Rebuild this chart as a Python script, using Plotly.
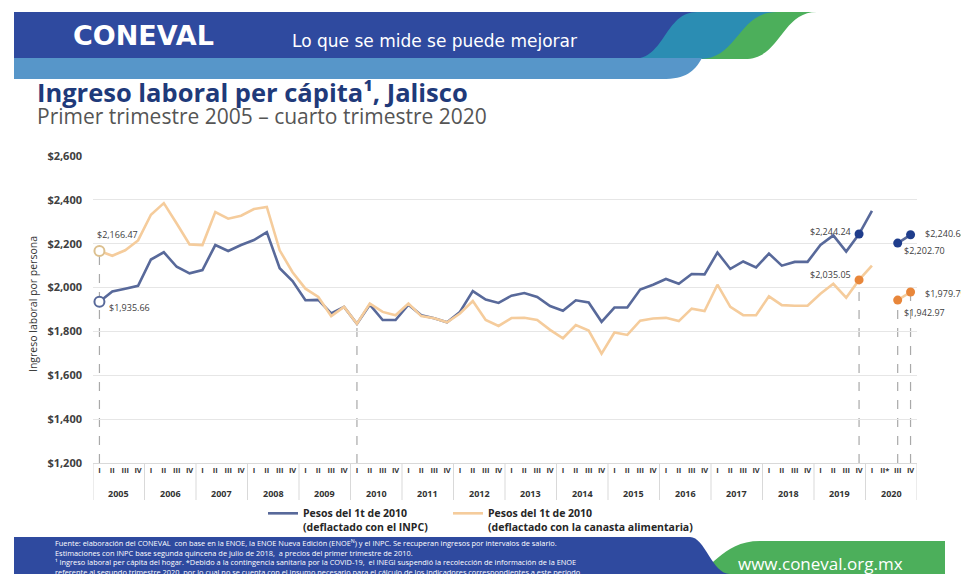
import plotly.graph_objects as go

# ---------------- data ----------------
years = [str(y) for y in range(2005, 2021)]
quarters = ["I", "II", "III", "IV"]
quarter_labels = []
for y in years:
    for q in quarters:
        quarter_labels.append("II*" if (y == "2020" and q == "II") else q)

inpc = [1935.66, 1982, 1995, 2008, 2128, 2161, 2095, 2065,
        2080, 2194, 2167, 2194, 2217, 2253, 2088, 2030,
        1942, 1944, 1882, 1912, 1835, 1922, 1852, 1852,
        1922, 1874, 1860, 1842, 1889, 1984, 1945, 1930,
        1963, 1975, 1957, 1916, 1894, 1942, 1932, 1844,
        1909, 1909, 1991, 2013, 2039, 2017, 2062, 2060,
        2160, 2085, 2119, 2092, 2155, 2100, 2117, 2117,
        2194, 2238, 2164, 2244.24, 2350, None, 2202.70, 2240.64]

canasta = [2166.47, 2145, 2170, 2215, 2332, 2385, 2292, 2197,
           2194, 2344, 2314, 2328, 2358, 2368, 2170, 2070,
           1995, 1957, 1870, 1912, 1835, 1927, 1889, 1874,
           1927, 1870, 1860, 1842, 1882, 1939, 1852, 1825,
           1861, 1862, 1852, 1807, 1769, 1829, 1804, 1699,
           1795, 1784, 1849, 1859, 1862, 1847, 1904, 1893,
           2013, 1912, 1874, 1874, 1960, 1920, 1917, 1917,
           1972, 2017, 1954, 2035.05, 2100, None, 1942.97, 1979.79]

series_names = ["Pesos del 1t de 2010<br>(deflactado con el INPC)",
                "Pesos del 1t de 2010<br>(deflactado con la canasta alimentaria)"]
yticks = [1200, 1400, 1600, 1800, 2000, 2200, 2400, 2600]
highlight_idx = [59, 62, 63]   # 2019 IV, 2020 III, 2020 IV
ref_idx = [0, 20, 59, 62, 63]  # dashed reference lines

# ---------------- styles ----------------
BLUE_LINE = "#58699a"
ORANGE_LINE = "#f5cc9c"
BLUE_DOT = "#1f3d8c"
ORANGE_DOT = "#e8863a"
W, H = 961, 574
ML, MR, MT, MB = 93, 44, 156, 111
PW, PH = W - ML - MR, H - MT - MB
FONT = "Open Sans"


def px(x):
    return (x - ML) / PW


def py(y):
    return (H - MB - y) / PH


def path(cmds):
    out = []
    for c in cmds:
        if c[0] == "Z":
            out.append("Z")
        else:
            pts = " ".join(f"{px(a):.5f},{py(b):.5f}" for a, b in c[1:])
            out.append(f"{c[0]} {pts}")
    return " ".join(out)


x = list(range(len(quarter_labels)))

fig = go.Figure()
fig.add_trace(go.Scatter(x=x, y=inpc, mode="lines", name=series_names[0], legend="legend",
                         line=dict(color=BLUE_LINE, width=2.6), connectgaps=False))
fig.add_trace(go.Scatter(x=x, y=canasta, mode="lines", name=series_names[1], legend="legend2",
                         line=dict(color=ORANGE_LINE, width=2.6), connectgaps=False))
# start markers (open)
fig.add_trace(go.Scatter(x=[0], y=[inpc[0]], mode="markers", showlegend=False,
                         marker=dict(size=10, color="white", line=dict(color=BLUE_LINE, width=2))))
fig.add_trace(go.Scatter(x=[0], y=[canasta[0]], mode="markers", showlegend=False,
                         marker=dict(size=10, color="white", line=dict(color="#dcc08f", width=2))))
# highlighted markers
fig.add_trace(go.Scatter(x=highlight_idx, y=[inpc[i] for i in highlight_idx], mode="markers",
                         showlegend=False, marker=dict(size=9, color=BLUE_DOT)))
fig.add_trace(go.Scatter(x=highlight_idx, y=[canasta[i] for i in highlight_idx], mode="markers",
                         showlegend=False, marker=dict(size=9, color=ORANGE_DOT)))

shapes = []
# dashed reference lines
for i in ref_idx:
    vals = [v for v in (inpc[i], canasta[i]) if v is not None]
    top = max(vals)
    if i == 20:
        top = min(vals)
    if i in highlight_idx:
        top = canasta[i]
    shapes.append(dict(type="line", xref="x", yref="y", x0=i, x1=i, y0=yticks[0], y1=top,
                       line=dict(color="#a9a9a9", width=1.2, dash="dash"), layer="below"))
# year separators
for k in range(len(years) + 1):
    xv = 4 * k - 0.5
    shapes.append(dict(type="line", xref="x", yref="paper", x0=xv, x1=xv, y0=0, y1=py(500),
                       line=dict(color="#d9d9d9", width=1)))

# header shapes
shapes.append(dict(type="path", xref="paper", yref="paper", layer="above",
                   path=path([("M", (14, 12)), ("L", (817, 12)),
                              ("C", (781, 12), (781, 59), (745, 59)),
                              ("L", (14, 59)), ("Z",)]),
                   fillcolor="#4caf5b", line=dict(width=0)))
shapes.append(dict(type="path", xref="paper", yref="paper", layer="above",
                   path=path([("M", (14, 12)), ("L", (777, 12)),
                              ("C", (738, 12), (738, 59), (700, 59)),
                              ("L", (14, 59)), ("Z",)]),
                   fillcolor="#2b8db3", line=dict(width=0)))
shapes.append(dict(type="path", xref="paper", yref="paper", layer="above",
                   path=path([("M", (14, 12)), ("L", (697, 12)),
                              ("C", (665, 12), (665, 59), (633, 59)),
                              ("L", (14, 59)), ("Z",)]),
                   fillcolor="#2f4a9f", line=dict(width=0)))
shapes.append(dict(type="path", xref="paper", yref="paper", layer="above",
                   path=path([("M", (14, 58)), ("L", (702, 58)),
                              ("C", (694, 72), (686, 79), (662, 79)),
                              ("L", (14, 79)), ("Z",)]),
                   fillcolor="#5796c9", line=dict(width=0)))
# footer shapes
shapes.append(dict(type="path", xref="paper", yref="paper", layer="above",
                   path=path([("M", (690, 574)), ("C", (712, 574), (720, 541), (760, 541)),
                              ("L", (945, 541)), ("L", (945, 574)), ("Z",)]),
                   fillcolor="#4caf5b", line=dict(width=0)))
shapes.append(dict(type="path", xref="paper", yref="paper", layer="above",
                   path=path([("M", (14, 537)), ("L", (690, 537)),
                              ("C", (705, 537), (712, 574), (730, 574)),
                              ("L", (14, 574)), ("Z",)]),
                   fillcolor="#2f4a9f", line=dict(width=0)))

annotations = []
# year labels
for k, yname in enumerate(years):
    annotations.append(dict(x=4 * k + 1.5, y=py(493), xref="x", yref="paper", text=f"<b>{yname}</b>",
                            showarrow=False, font=dict(family=FONT, size=9, color="#333333"),
                            xanchor="center", yanchor="middle"))


def lab(i, v, xa, xs, ys):
    annotations.append(dict(x=i, y=v, xref="x", yref="y", text=f"${v:,.2f}", showarrow=False,
                            xanchor=xa, yanchor="middle", xshift=xs, yshift=ys,
                            font=dict(family=FONT, size=9, color="#404040")))


lab(0, canasta[0], "left", -4, 17)
lab(0, inpc[0], "left", 8, -6)
lab(59, inpc[59], "right", -6, 3)
lab(59, canasta[59], "right", -6, 5)
lab(63, inpc[63], "left", 12, 1)
lab(62, inpc[62], "left", 4, -7)
lab(63, canasta[63], "left", 12, -1)
lab(62, canasta[62], "left", 4, -12)

# y-axis title
annotations.append(dict(x=px(33), y=py(304), xref="paper", yref="paper",
                        text="Ingreso laboral por persona", showarrow=False, textangle=-90,
                        xanchor="center", yanchor="middle",
                        font=dict(family=FONT, size=10.5, color="#333333")))

# header texts
annotations.append(dict(x=px(71), y=py(35), xref="paper", yref="paper", text="<b>CONEVAL</b>",
                        showarrow=False, xanchor="left", yanchor="middle",
                        font=dict(family="DejaVu Sans", size=27, color="white")))
annotations.append(dict(x=px(290), y=py(41), xref="paper", yref="paper",
                        text="Lo que se mide se puede mejorar", showarrow=False,
                        xanchor="left", yanchor="middle",
                        font=dict(family="DejaVu Sans", size=17, color="white")))
annotations.append(dict(x=px(35), y=py(92), xref="paper", yref="paper",
                        text="<b>Ingreso laboral per cápita¹, Jalisco</b>", showarrow=False,
                        xanchor="left", yanchor="middle",
                        font=dict(family="Open Sans", size=25.5, color="#1f3a7a")))
annotations.append(dict(x=px(35), y=py(116), xref="paper", yref="paper",
                        text="Primer trimestre 2005 – cuarto trimestre 2020", showarrow=False,
                        xanchor="left", yanchor="middle",
                        font=dict(family="Open Sans", size=21, color="#555555")))
# footer text
footer_lines = [
    "Fuente: elaboración del CONEVAL  con base en la ENOE, la ENOE Nueva Edición (ENOE<sup>N</sup>) y el INPC. Se recuperan ingresos por intervalos de salario.",
    "Estimaciones con INPC base segunda quincena de julio de 2018,  a precios del primer trimestre de 2010.",
    "¹ Ingreso laboral per cápita del hogar. *Debido a la contingencia sanitaria por la COVID-19,  el INEGI suspendió la recolección de información de la ENOE",
    "referente al segundo trimestre 2020, por lo cual no se cuenta con el insumo necesario para el cálculo de los indicadores correspondientes a este periodo.",
]
annotations.append(dict(x=px(53), y=py(535), xref="paper", yref="paper", text="<br>".join(footer_lines),
                        showarrow=False, xanchor="left", yanchor="top", align="left",
                        font=dict(family=FONT, size=7.4, color="white")))
annotations.append(dict(x=px(820), y=py(563), xref="paper", yref="paper", text="www.coneval.org.mx",
                        showarrow=False, xanchor="center", yanchor="middle",
                        font=dict(family="Open Sans", size=17, color="white")))

legend_common = dict(orientation="h", xanchor="left", yanchor="top", valign="top",
                     font=dict(family=FONT, size=10.5, color="#262626", weight="bold"),
                     bgcolor="rgba(0,0,0,0)", itemwidth=30)

fig.update_layout(
    width=W, height=H,
    margin=dict(l=ML, r=MR, t=MT, b=MB, pad=0),
    paper_bgcolor="white", plot_bgcolor="white",
    font=dict(family=FONT, color="#404040"),
    shapes=shapes, annotations=annotations,
    showlegend=True,
    legend=dict(x=px(263), y=py(500), **legend_common),
    legend2=dict(x=px(448), y=py(500), **legend_common),
    xaxis=dict(range=[-0.5, len(x) - 0.5], tickvals=x, ticktext=quarter_labels,
               showgrid=False, zeroline=False, showline=True, linecolor="#d9d9d9", linewidth=1,
               ticks="", tickangle=0,
               tickfont=dict(family=FONT, size=7.5, color="#333333", weight="bold")),
    yaxis=dict(range=[yticks[0], yticks[-1]], tickvals=yticks, tickformat="$,.0f",
               showgrid=True, gridcolor="#e6e6e6", gridwidth=1, zeroline=False, showline=False,
               ticks="", ticklabelstandoff=10,
               tickfont=dict(family=FONT, size=11, color="#404040", weight="bold")),
)

fig.write_html("out.html")
